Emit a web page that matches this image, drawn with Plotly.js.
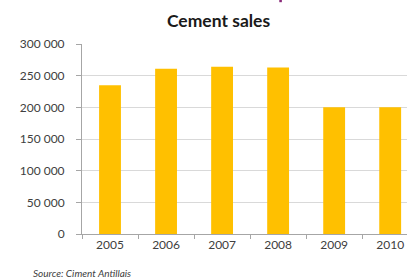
<!DOCTYPE html>
<html>
<head>
<meta charset="utf-8">
<script src="https://cdn.plot.ly/plotly-3.0.1.min.js"></script>
<style>html,body{margin:0;padding:0;background:#fff;}#chart{width:407px;height:280px;}</style>
</head>
<body>
<div id="chart"></div>
<script>
const years = ["2005", "2006", "2007", "2008", "2009", "2010"];
const sales = [235000, 261000, 264000, 263000, 200000, 200000];
const yTickVals = [0, 50000, 100000, 150000, 200000, 250000, 300000];
const yTickText = ["0", "50 000", "100 000", "150 000", "200 000", "250 000", "300 000"];
const chartTitle = "Cement sales";
const sourceNote = "Source: Ciment Antillais";

const font = "Lato, 'Open Sans', sans-serif";
Plotly.newPlot("chart", [{
  type: "bar",
  x: years,
  y: sales,
  width: 0.39,
  marker: {color: "#FFC000"},
  hoverinfo: "x+y"
}], {
  width: 407, height: 280,
  margin: {l: 82, r: 0, t: 44, b: 46, pad: 0},
  paper_bgcolor: "#fff", plot_bgcolor: "#fff",
  showlegend: false,
  font: {family: font, size: 12, color: "#404040"},
  title: {text: "<b>" + chartTitle + "</b>", x: 0.537, xanchor: "center", y: 0.925, yanchor: "middle",
          font: {family: font, size: 17.5, color: "#1a1a1a"}},
  xaxis: {
    type: "category", range: [-0.5, 5.3],
    showline: true, linecolor: "#a6a6a6", linewidth: 1,
    ticks: "outside", tickson: "boundaries", ticklen: 4, tickcolor: "#a6a6a6",
    showgrid: false, zeroline: false,
    tickfont: {family: font, size: 12, color: "#404040"}
  },
  yaxis: {
    range: [0, 300000], tickvals: yTickVals, ticktext: yTickText,
    showline: true, linecolor: "#a6a6a6", linewidth: 1,
    ticks: "outside", ticklen: 5, tickcolor: "#a6a6a6",
    showgrid: true, gridcolor: "#d9d9d9", gridwidth: 1, zeroline: false,
    ticklabelstandoff: 9,
    tickfont: {family: font, size: 12, color: "#404040"}
  },
  annotations: [{
    text: "<i>" + sourceNote + "</i>", xref: "paper", yref: "paper",
    x: -0.157, y: -0.205, xanchor: "left", yanchor: "middle", showarrow: false,
    font: {family: font, size: 10, color: "#404040"}
  }],
  shapes: [{type: "rect", xref: "paper", yref: "paper", x0: 0.607, x1: 0.615, y0: 1.22, y1: 1.235,
            fillcolor: "#8a2b7a", line: {width: 0}}]
}, {displayModeBar: false, staticPlot: true});
</script>
</body>
</html>
